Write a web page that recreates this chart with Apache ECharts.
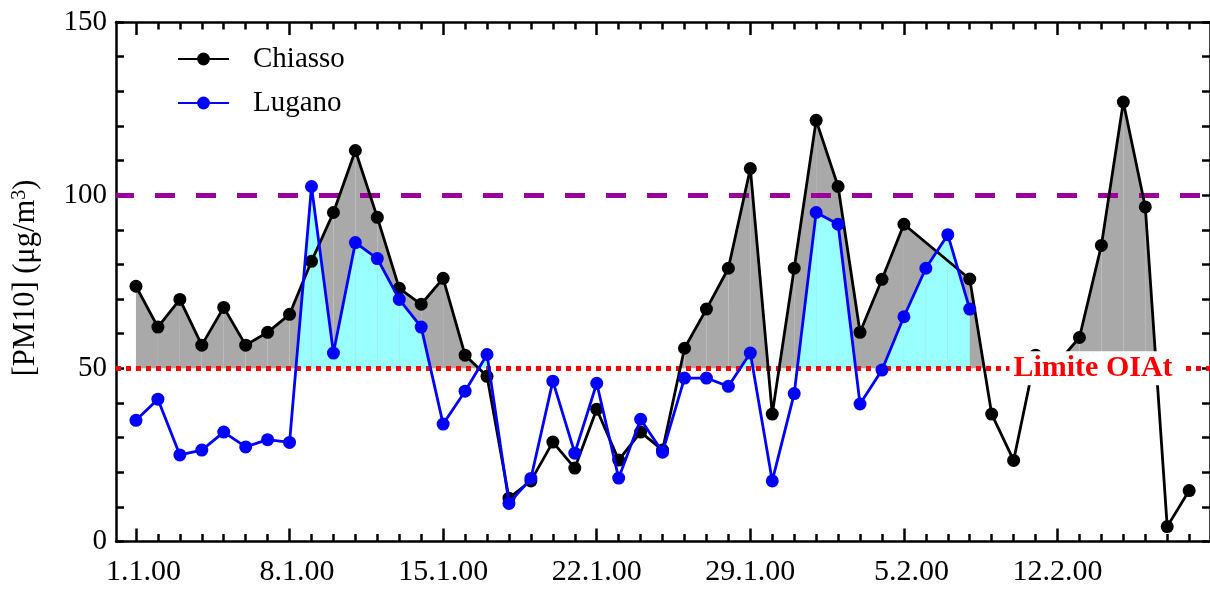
<!DOCTYPE html>
<html>
<head>
<meta charset="utf-8">
<script src="https://cdn.jsdelivr.net/npm/echarts@6/dist/echarts.min.js"></script>
<style>
html,body{margin:0;padding:0;background:#fff;}
#c{width:1210px;height:591px;}
</style>
</head>
<body>
<div id="c"></div>
<script>
// ---- data (daily PM10, day 0 = 1.1.00) ----
const chiasso = [73.7, 61.9, 69.9, 56.7, 67.6, 56.7, 60.4, 65.6, 80.9, 95.0,
                 112.9, 93.6, 73.1, 68.5, 76.0, 53.8, 47.7, 12.5, 17.5, 28.7,
                 21.2, 38.2, 23.5, 31.6, 26.4, 55.8, 67.1, 78.9, 107.7, 36.8,
                 78.9, 121.6, 102.5, 60.4, 75.7, 91.6, null, null, 75.8, 36.8,
                 23.4, 53.8, 51.5, 58.9, 85.5, 126.9, 96.6, 4.3, 14.7];
const lugano  = [35.0, 41.1, 25.0, 26.4, 31.6, 27.3, 29.4, 28.6, 102.5, 54.4,
                 86.3, 81.7, 69.9, 61.9, 33.9, 43.4, 54.0, 11.0, 18.2, 46.3,
                 25.5, 45.7, 18.3, 35.3, 25.8, 47.2, 47.2, 44.8, 54.4, 17.5,
                 42.7, 95.0, 91.6, 39.7, 49.5, 64.9, 78.9, 88.6, 67.1];
const tickDays   = [0, 7, 14, 21, 28, 35, 42];
const tickLabels = ['1.1.00', '8.1.00', '15.1.00', '22.1.00', '29.1.00', '5.2.00', '12.2.00'];
const yTicks = [0, 50, 100, 150];
const LIMIT = 50;          // Limite OIAt
const ALERT = 100;         // purple dashed line
const limitLabel = 'Limite OIAt';
const limitLabelDay = 43.8;
const seriesNames = ['Chiasso', 'Lugano'];

// ---- layout / style ----
const FONT = "'Liberation Serif', 'Times New Roman', Times, serif";
const X_MIN = -0.91, X_MAX = 48.95;
const AX = {color: '#000', width: 2.5};
const allDays = chiasso.map((_, i) => i);

function pairs(vals) {
  const out = [];
  vals.forEach((v, i) => { if (v != null) out.push([i, v]); });
  return out;
}
function segments(vals) {
  const segs = []; let prev = null;
  vals.forEach((v, i) => {
    if (v == null) return;
    if (prev != null) segs.push([prev, vals[prev], i, v]);
    prev = i;
  });
  return segs;
}
function fillAbove(color) {
  return function (params, api) {
    const x0 = api.value(0), y0 = api.value(1), x1 = api.value(2), y1 = api.value(3);
    if (y0 <= LIMIT && y1 <= LIMIT) return {type: 'group', children: []};
    const pts = [];
    if (y0 >= LIMIT && y1 >= LIMIT) {
      pts.push([x0, LIMIT], [x0, y0], [x1, y1], [x1, LIMIT]);
    } else {
      const cx = x0 + (x1 - x0) * (LIMIT - y0) / (y1 - y0);
      if (y0 > LIMIT) pts.push([x0, LIMIT], [x0, y0], [cx, LIMIT]);
      else pts.push([cx, LIMIT], [x1, y1], [x1, LIMIT]);
    }
    return {type: 'polygon', shape: {points: pts.map(p => api.coord(p))}, style: {fill: color}};
  };
}

const xBase = {
  type: 'value', min: X_MIN, max: X_MAX,
  splitLine: {show: false}, axisLine: {show: false, onZero: false},
  axisLabel: {show: false}, axisTick: {show: false}
};
const yBase = {
  type: 'value', min: 0, max: 150, interval: 50,
  splitLine: {show: false},
  axisLine: {show: true, onZero: false, lineStyle: AX},
  axisTick: {show: true, inside: true, length: 8, lineStyle: AX},
  minorTick: {show: true, splitNumber: 5, length: 8, lineStyle: AX},
  minorSplitLine: {show: false}
};

const chart = echarts.init(document.getElementById('c'), null, {renderer: 'canvas'});
chart.setOption({
  animation: false,
  backgroundColor: '#fff',
  grid: {left: 116, top: 22, width: 1095, height: 519.5, containLabel: false},
  legend: {
    data: seriesNames, orient: 'vertical', left: 177, top: 44, padding: 0,
    itemWidth: 51, itemHeight: 16, itemGap: 14,
    textStyle: {fontFamily: FONT, fontSize: 29, color: '#000', lineHeight: 30, padding: [0, 0, 0, 19]}
  },
  xAxis: [
    Object.assign({}, xBase, {
      position: 'bottom',
      axisLine: {show: true, onZero: false, lineStyle: AX},
      axisTick: {show: true, inside: true, length: 13, customValues: tickDays, lineStyle: AX},
      axisLabel: {
        show: true, customValues: tickDays, margin: 16,
        fontFamily: FONT, fontSize: 30, color: '#000',
        formatter: function (v) {
          const s = tickLabels[tickDays.indexOf(Math.round(v))] || '';
          return s.length === 6 ? '{pad| }' + s : s;
        },
        rich: {pad: {width: 15, fontSize: 30}}
      }
    }),
    Object.assign({}, xBase, {
      position: 'bottom',
      axisTick: {show: true, inside: true, length: 7.5, customValues: allDays, lineStyle: AX}
    }),
    Object.assign({}, xBase, {
      position: 'top',
      axisLine: {show: true, onZero: false, lineStyle: AX},
      axisTick: {show: true, inside: true, length: 13, customValues: tickDays, lineStyle: AX}
    }),
    Object.assign({}, xBase, {
      position: 'top',
      axisTick: {show: true, inside: true, length: 7.5, customValues: allDays, lineStyle: AX}
    })
  ],
  yAxis: [
    Object.assign({}, yBase, {
      position: 'left',
      axisLabel: {show: true, margin: 9, fontFamily: FONT, fontSize: 29, color: '#000',
        formatter: v => (yTicks.indexOf(v) >= 0 ? String(v) : '')}
    }),
    Object.assign({}, yBase, {position: 'right', axisLabel: {show: false}})
  ],
  graphic: [{
    type: 'text', x: 26, y: 278, rotation: Math.PI / 2, z: 100,
    style: {
      text: '{a|[PM10] (μg/m}{s|3}{a|)}',
      align: 'center', verticalAlign: 'middle',
      rich: {
        a: {fontFamily: FONT, fontSize: 30.5, fill: '#000', lineHeight: 32},
        s: {fontFamily: FONT, fontSize: 20, fill: '#000', verticalAlign: 'top', lineHeight: 21}
      }
    }
  }],
  series: [
    {
      type: 'custom', name: 'fillC', xAxisIndex: 0, yAxisIndex: 0, z: 1, silent: true,
      renderItem: fillAbove('#a9a9a9'),
      encode: {x: [0, 2], y: [1, 3]},
      data: segments(chiasso),
      markLine: {
        silent: true, symbol: ['none', 'none'], z: 3,
        label: {show: false},
        data: [
          {yAxis: ALERT, lineStyle: {color: '#990099', width: 5, type: [20, 21], dashOffset: 2}},
          {yAxis: LIMIT, lineStyle: {color: '#ff0000', width: 5, type: [5, 5]}}
        ]
      }
    },
    {
      type: 'custom', name: 'fillL', xAxisIndex: 0, yAxisIndex: 0, z: 2, silent: true,
      renderItem: fillAbove('#99ffff'),
      encode: {x: [0, 2], y: [1, 3]},
      data: segments(lugano)
    },
    {
      type: 'line', name: seriesNames[0], xAxisIndex: 0, yAxisIndex: 0, z: 4,
      data: pairs(chiasso),
      symbol: 'circle', symbolSize: 13, showAllSymbol: true,
      itemStyle: {color: '#000'},
      lineStyle: {color: '#000', width: 2.8}
    },
    {
      type: 'line', name: seriesNames[1], xAxisIndex: 0, yAxisIndex: 0, z: 5,
      data: pairs(lugano),
      symbol: 'circle', symbolSize: 13, showAllSymbol: true,
      itemStyle: {color: '#0000ff'},
      lineStyle: {color: '#0000ff', width: 2.8},
      markPoint: {
        silent: true, z: 10,
        data: [{
          coord: [limitLabelDay, LIMIT], symbol: 'rect', symbolSize: 1,
          itemStyle: {color: 'rgba(0,0,0,0)'},
          label: {
            show: true, position: 'inside', formatter: limitLabel,
            fontFamily: FONT, fontSize: 30, fontWeight: 'bold', color: '#ff0000',
            backgroundColor: '#fff', padding: [1, 12, 1, 4], lineHeight: 32
          }
        }]
      }
    }
  ]
});
</script>
</body>
</html>
